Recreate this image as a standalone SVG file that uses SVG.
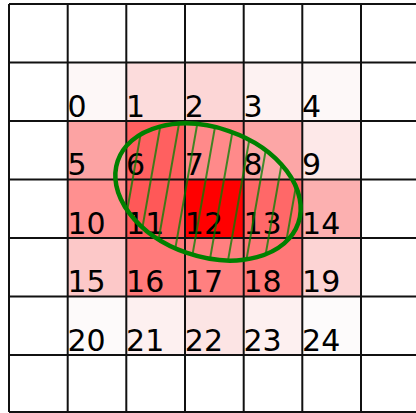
<svg xmlns="http://www.w3.org/2000/svg" width="416" height="413" viewBox="0 0 416 413">
<defs>
<style>
.grid line{stroke:#111;stroke-width:2}
.lbl{font-family:"DejaVu Sans",sans-serif;font-size:30px;fill:#000}
</style>
<pattern id="hatch" patternUnits="userSpaceOnUse" width="18" height="200" patternTransform="rotate(-9)">
<line x1="9" y1="0" x2="9" y2="200" stroke="#008000" stroke-width="1.5"/>
</pattern>
</defs>
<rect width="416" height="413" fill="#fff"/>
<g id="cells">
<g id="cell-0"><rect x="67.7" y="62.5" width="58.6" height="58.5" fill="#fdf7f7"/><text class="lbl" x="67.5" y="116.8">0</text></g>
<g id="cell-1"><rect x="126.3" y="62.5" width="58.7" height="58.5" fill="#fcdcdc"/><text class="lbl" x="126.1" y="116.8">1</text></g>
<g id="cell-2"><rect x="185" y="62.5" width="58.7" height="58.5" fill="#fcd6d6"/><text class="lbl" x="184.8" y="116.8">2</text></g>
<g id="cell-3"><rect x="243.7" y="62.5" width="58.6" height="58.5" fill="#fdf2f2"/><text class="lbl" x="243.5" y="116.8">3</text></g>
<g id="cell-4"><rect x="302.3" y="62.5" width="58.7" height="58.5" fill="#fdf8f8"/><text class="lbl" x="302.1" y="116.8">4</text></g>
<g id="cell-5"><rect x="67.7" y="121" width="58.6" height="58.5" fill="#fca3a3"/><text class="lbl" x="67.5" y="175.3">5</text></g>
<g id="cell-6"><rect x="126.3" y="121" width="58.7" height="58.5" fill="#ff6060"/><text class="lbl" x="126.1" y="175.3">6</text></g>
<g id="cell-7"><rect x="185" y="121" width="58.7" height="58.5" fill="#ff8a8a"/><text class="lbl" x="184.8" y="175.3">7</text></g>
<g id="cell-8"><rect x="243.7" y="121" width="58.6" height="58.5" fill="#fca6a6"/><text class="lbl" x="243.5" y="175.3">8</text></g>
<g id="cell-9"><rect x="302.3" y="121" width="58.7" height="58.5" fill="#fde8e8"/><text class="lbl" x="302.1" y="175.3">9</text></g>
<g id="cell-10"><rect x="67.7" y="179.5" width="58.6" height="58.5" fill="#ff9090"/><text class="lbl" x="67.5" y="233.8">10</text></g>
<g id="cell-11"><rect x="126.3" y="179.5" width="58.7" height="58.5" fill="#ff5858"/><text class="lbl" x="126.1" y="233.8">11</text></g>
<g id="cell-12"><rect x="185" y="179.5" width="58.7" height="58.5" fill="#ff0000"/><text class="lbl" x="184.8" y="233.8">12</text></g>
<g id="cell-13"><rect x="243.7" y="179.5" width="58.6" height="58.5" fill="#ff6868"/><text class="lbl" x="243.5" y="233.8">13</text></g>
<g id="cell-14"><rect x="302.3" y="179.5" width="58.7" height="58.5" fill="#fcb0b0"/><text class="lbl" x="302.1" y="233.8">14</text></g>
<g id="cell-15"><rect x="67.7" y="238" width="58.6" height="58.5" fill="#fcc8c8"/><text class="lbl" x="67.5" y="292.3">15</text></g>
<g id="cell-16"><rect x="126.3" y="238" width="58.7" height="58.5" fill="#ff7a7a"/><text class="lbl" x="126.1" y="292.3">16</text></g>
<g id="cell-17"><rect x="185" y="238" width="58.7" height="58.5" fill="#ff8080"/><text class="lbl" x="184.8" y="292.3">17</text></g>
<g id="cell-18"><rect x="243.7" y="238" width="58.6" height="58.5" fill="#ff7878"/><text class="lbl" x="243.5" y="292.3">18</text></g>
<g id="cell-19"><rect x="302.3" y="238" width="58.7" height="58.5" fill="#fcd4d4"/><text class="lbl" x="302.1" y="292.3">19</text></g>
<g id="cell-20"><rect x="67.7" y="296.5" width="58.6" height="58.5" fill="#fdfafa"/><text class="lbl" x="67.5" y="350.8">20</text></g>
<g id="cell-21"><rect x="126.3" y="296.5" width="58.7" height="58.5" fill="#fdf0f0"/><text class="lbl" x="126.1" y="350.8">21</text></g>
<g id="cell-22"><rect x="185" y="296.5" width="58.7" height="58.5" fill="#fce4e4"/><text class="lbl" x="184.8" y="350.8">22</text></g>
<g id="cell-23"><rect x="243.7" y="296.5" width="58.6" height="58.5" fill="#fdf0f0"/><text class="lbl" x="243.5" y="350.8">23</text></g>
<g id="cell-24"><rect x="302.3" y="296.5" width="58.7" height="58.5" fill="#fdfbfb"/><text class="lbl" x="302.1" y="350.8">24</text></g>
</g>
<g class="grid" id="grid">
<line x1="9" y1="4" x2="9" y2="412"/>
<line x1="67.7" y1="4" x2="67.7" y2="412"/>
<line x1="126.3" y1="4" x2="126.3" y2="412"/>
<line x1="185" y1="4" x2="185" y2="412"/>
<line x1="243.7" y1="4" x2="243.7" y2="412"/>
<line x1="302.3" y1="4" x2="302.3" y2="412"/>
<line x1="361" y1="4" x2="361" y2="412"/>
<line x1="9" y1="4" x2="416" y2="4"/>
<line x1="9" y1="62.5" x2="416" y2="62.5"/>
<line x1="9" y1="121" x2="416" y2="121"/>
<line x1="9" y1="179.5" x2="416" y2="179.5"/>
<line x1="9" y1="238" x2="416" y2="238"/>
<line x1="9" y1="296.5" x2="416" y2="296.5"/>
<line x1="9" y1="355" x2="416" y2="355"/>
<line x1="9" y1="412" x2="416" y2="412"/>
</g>
<g id="ellipse">
<ellipse cx="208" cy="192" rx="95.5" ry="64.5" transform="rotate(19 208 192)" fill="url(#hatch)" stroke="#008000" stroke-width="4.5"/>
</g>
</svg>
